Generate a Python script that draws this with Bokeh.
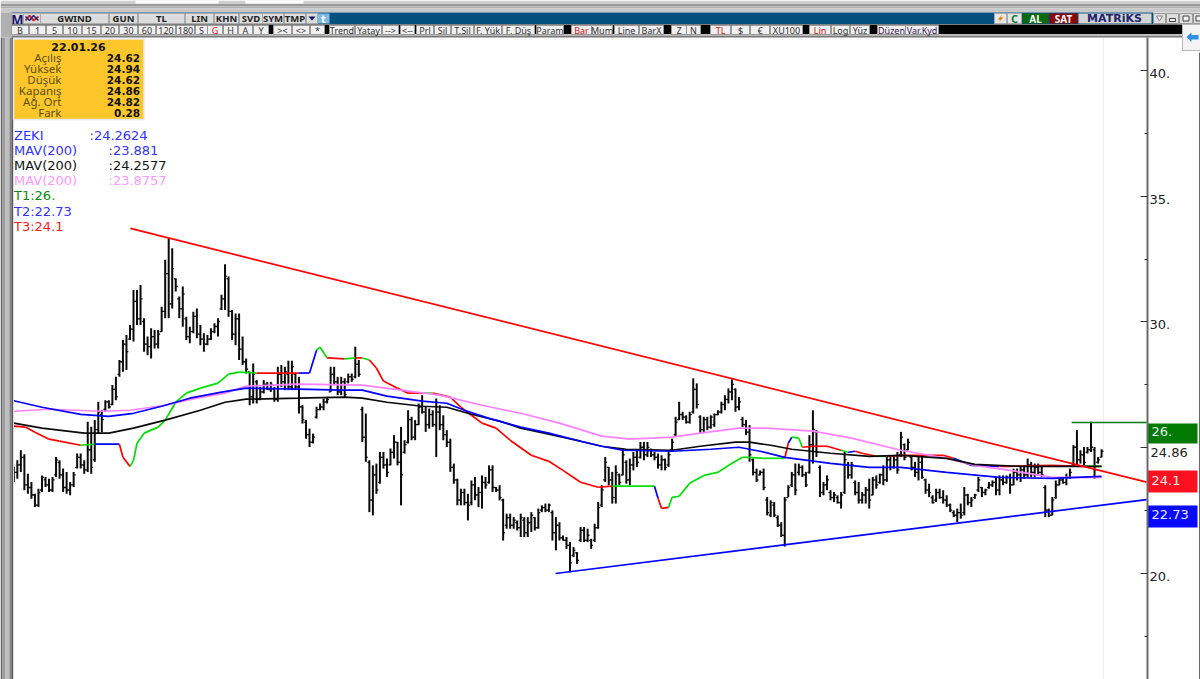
from bokeh.plotting import figure
from bokeh.embed import file_html
from bokeh.resources import INLINE
from bokeh.models import Range1d, LinearAxis, FixedTicker, ColumnDataSource
from bokeh.core.properties import value

# ---------- data ----------
HIGH = [
 24.32,24.58,24.98,24.82,24.05,23.72,23.25,23.45,23.98,23.92,23.85,23.92,24.71,24.58,24.25,24.12,23.72,24.12,24.85,24.85,24.58,26.11,25.91,26.18,26.91,26.57,26.97,26.97,27.57,27.9,28.57,29.36,29.56,29.96,31.35,31.35,31.55,30.23,29.5,29.83,29.76,29.76,30.69,32.55,33.4,33.01,31.82,31.09,31.49,30.29,29.89,30.49,30.62,29.96,29.63,29.56,29.83,30.03,30.23,31.16,32.38,31.89,30.56,30.42,30.42,29.5,28.63,28.1,28.43,27.77,27.5,27.77,27.7,27.7,27.5,28.3,28.37,28.3,28.54,28.54,28.03,27.9,
 26.77,26.18,25.84,25.64,26.71,26.84,27.04,27.1,28.3,28.3,27.9,27.9,27.84,28.03,28.03,29.1,28.57,26.71,26.44,24.58,24.38,24.45,24.91,24.91,24.65,25.05,25.58,25.31,25.91,25.38,26.57,26.31,26.18,26.84,27.17,26.71,26.64,26.57,27.04,26.77,26.37,25.78,25.44,24.45,23.85,23.45,23.45,23.25,23.78,23.92,23.52,23.98,23.92,24.38,24.38,23.52,23.59,23.05,22.46,22.46,22.32,22.19,22.46,22.32,22.32,22.52,22.32,22.66,22.79,22.86,22.86,22.59,22.32,22.12,21.59,21.53,21.33,21.13,20.93,21.93,21.93,21.86,21.46,22.06,22.92,
 23.59,24.71,24.32,24.12,24.38,24.05,25.05,24.58,24.65,24.91,24.98,25.31,25.31,25.31,25.05,24.91,24.85,24.78,24.65,24.98,25.44,26.31,26.91,26.51,26.37,26.51,27.84,27.64,26.37,26.31,26.31,26.37,26.44,26.57,26.91,27.17,27.44,27.8,27.44,27.1,26.31,26.18,25.98,24.65,24.25,24.18,24.25,23.12,22.99,22.92,22.39,22.12,23.12,23.59,24.12,24.45,24.45,24.38,24.12,25.58,26.57,25.78,24.38,23.72,23.98,23.39,23.32,23.19,23.32,24.91,24.52,24.52,23.78,23.72,23.32,23.52,23.85,23.92,23.98,24.05,24.38,24.78,24.78,24.78,24.91,
 25.71,25.25,25.44,24.71,24.52,24.71,24.78,23.85,23.65,23.19,23.45,23.45,23.39,23.19,22.86,22.59,22.66,22.86,23.52,23.25,23.12,23.25,23.92,23.52,23.45,23.72,23.78,23.92,23.98,23.98,23.98,24.05,24.25,24.25,24.32,24.38,24.65,24.52,24.45,24.45,24.38,23.59,22.66,23.12,23.78,23.92,23.92,24.05,24.25,25.18,25.78,24.98,25.11,25.11,26.11,25.11,24.71,24.94]
LOW = [
 23.72,23.85,24.12,23.39,23.25,23.05,22.72,22.72,23.32,23.52,23.32,23.32,23.92,23.85,23.32,23.25,23.19,23.52,24.25,24.25,24.05,24.12,24.05,24.52,25.64,25.71,26.51,26.64,26.77,26.97,27.9,28.1,28.17,29.36,29.3,29.96,29.96,28.9,28.76,28.63,29.03,29.03,29.69,30.23,30.23,30.62,31.29,30.23,29.89,29.36,29.23,29.63,29.43,29.16,28.9,29.16,29.36,29.63,29.5,30.56,30.56,30.29,29.36,29.16,28.57,28.37,28.03,26.77,26.84,26.84,26.97,27.24,27.37,27.3,26.91,26.91,27.5,27.37,27.37,27.37,27.37,26.44,
 26.04,25.44,25.11,25.25,26.24,26.57,26.57,26.84,27.3,27.57,27.17,27.17,27.1,27.64,27.7,27.84,27.9,25.31,24.52,22.52,22.39,23.25,23.65,24.25,23.92,24.38,24.65,24.38,22.79,24.85,25.25,25.38,25.38,25.98,26.44,25.71,25.84,25.91,24.71,25.78,25.38,25.11,24.12,23.65,22.79,22.79,22.79,22.19,22.79,22.99,22.72,22.66,23.45,23.65,23.32,23.32,22.99,21.39,21.86,21.86,21.86,21.79,21.53,21.53,21.53,21.73,21.79,21.86,22.52,22.52,22.52,21.39,21.0,21.39,21.39,21.06,20.13,20.73,20.46,21.33,21.33,21.33,21.06,21.33,21.86,
 22.72,23.72,23.59,22.86,22.86,23.59,23.98,23.65,23.59,24.18,24.32,24.65,24.58,24.71,24.71,24.58,24.25,24.18,24.18,24.32,24.91,25.51,26.18,26.18,26.04,26.04,26.44,26.64,25.64,25.71,25.78,25.84,25.91,26.37,26.44,26.57,26.84,26.97,26.51,26.57,25.91,25.58,24.52,23.98,23.72,23.98,23.39,22.39,22.32,22.32,21.93,21.53,21.15,23.12,23.52,23.19,23.98,23.92,23.52,24.05,24.45,24.71,23.12,23.19,23.39,22.99,22.92,22.86,22.66,23.25,23.85,23.85,23.19,22.86,22.86,22.86,22.66,23.19,23.45,23.65,23.59,23.72,24.18,24.25,24.05,
 24.71,24.58,24.98,24.18,23.92,23.78,23.85,23.25,23.12,22.86,22.92,23.05,22.86,22.72,22.52,22.32,22.12,22.26,22.39,22.79,22.72,23.05,23.32,23.12,23.19,23.45,23.52,23.19,23.19,23.59,23.65,23.25,23.59,23.78,23.72,23.85,23.92,23.92,23.92,23.98,23.92,22.32,22.32,22.39,23.05,23.59,23.65,23.59,23.85,24.32,24.38,24.45,24.38,24.85,24.91,23.85,24.45,24.62]
OPEN = [
 23.9,24.1,24.4,24.7,23.6,23.5,23.2,22.8,23.4,23.8,23.6,23.4,24.0,24.5,24.0,23.5,23.4,23.6,24.3,24.7,24.4,24.2,25.0,24.6,25.8,26.4,26.6,26.9,26.8,27.4,28.0,28.5,29.2,29.4,29.8,30.9,30.2,30.1,29.2,29.1,29.5,29.2,29.7,30.5,32.0,30.8,31.8,31.0,30.6,30.2,29.5,29.7,30.3,29.6,29.4,29.2,29.4,29.7,29.9,30.6,31.0,31.8,30.5,29.6,30.2,29.0,28.5,28.1,27.1,27.7,27.0,27.3,27.6,27.4,27.4,27.0,28.0,27.7,28.0,27.5,28.0,27.5,
 26.7,26.1,25.6,25.3,26.3,26.6,26.7,26.9,27.3,28.0,27.7,27.3,27.7,27.7,27.9,27.9,28.4,26.6,25.5,24.5,23.0,24.0,23.7,24.7,24.4,24.4,24.9,25.3,24.5,24.9,25.3,26.2,25.5,26.0,26.7,26.5,26.0,26.4,26.0,26.5,26.0,25.6,25.3,24.3,23.8,23.0,23.3,22.9,22.9,23.6,23.2,23.3,23.7,23.7,24.2,23.5,23.4,23.0,22.0,22.3,22.0,22.1,21.9,22.2,21.7,22.1,22.3,21.9,22.6,22.7,22.6,22.5,21.7,22.0,21.5,21.4,21.2,20.8,20.9,21.4,21.8,21.4,21.4,21.4,21.9,
 22.8,23.8,24.3,23.8,23.1,24.0,24.0,24.5,23.8,24.4,24.7,24.7,25.1,24.8,25.0,24.8,24.7,24.4,24.6,24.4,25.0,25.6,26.2,26.4,26.3,26.1,26.5,27.4,26.3,25.8,26.2,25.9,26.0,26.4,26.5,26.8,27.0,27.3,27.4,26.7,26.2,26.0,25.7,24.6,24.1,24.0,24.1,23.0,22.4,22.8,22.3,22.0,21.6,23.1,23.6,24.0,24.1,24.3,24.0,24.1,25.2,25.7,24.3,23.3,23.6,23.3,23.1,23.1,22.9,23.3,24.4,24.0,23.7,23.3,23.0,23.2,23.4,23.2,23.8,23.7,24.0,23.8,24.6,24.3,24.6,
 24.8,25.2,25.0,24.7,24.3,24.1,24.5,23.8,23.4,23.1,23.0,23.3,23.1,23.0,22.8,22.5,22.4,22.5,22.5,23.2,22.9,23.1,23.4,23.5,23.3,23.5,23.6,23.7,23.4,23.8,23.7,23.9,23.6,24.1,24.0,24.2,24.0,24.4,24.1,24.3,24.1,23.5,22.6,22.4,23.1,23.6,23.8,23.7,23.9,24.4,25.1,24.6,24.8,24.9,25.0,25.0,24.5,24.62]
CLOSE = [
 24.1,24.4,24.7,23.6,23.5,23.2,22.8,23.3,23.9,23.6,23.4,23.8,24.6,24.0,23.5,23.4,23.6,24.0,24.7,24.4,24.2,25.0,24.3,25.8,26.5,26.2,26.9,26.7,27.4,27.1,28.5,29.2,28.9,29.8,30.9,30.2,31.0,29.2,29.1,29.5,29.2,29.6,30.5,32.0,30.8,32.2,31.5,30.6,31.2,29.5,29.7,30.3,29.6,29.4,29.2,29.4,29.7,29.9,30.1,31.0,31.9,30.5,29.6,30.2,29.0,28.5,28.2,27.1,28.0,27.0,27.3,27.6,27.4,27.6,27.0,28.0,27.7,28.1,27.5,28.3,27.5,26.7,
 26.2,25.6,25.3,25.5,26.6,26.7,26.9,27.0,28.0,27.7,27.3,27.7,27.2,27.9,27.8,28.4,28.0,25.5,24.7,23.0,24.0,23.4,24.7,24.4,24.1,24.9,25.3,24.5,24.0,25.2,26.2,25.5,26.0,26.7,26.5,26.0,26.4,26.0,26.5,26.0,25.6,25.3,24.3,23.8,23.0,23.3,22.9,22.8,23.6,23.2,23.3,23.7,23.6,24.2,23.5,23.4,23.1,21.7,22.3,22.0,22.2,21.9,22.3,21.7,22.1,22.4,21.9,22.5,22.7,22.6,22.8,21.7,22.0,21.5,21.4,21.2,20.5,21.0,20.6,21.8,21.4,21.6,21.2,21.9,22.7,
 23.4,24.5,23.8,23.1,24.1,23.7,24.8,23.8,24.4,24.7,24.5,25.1,24.8,25.1,24.8,24.7,24.4,24.6,24.3,24.8,25.3,26.1,26.4,26.3,26.1,26.4,27.4,26.8,25.8,26.2,25.9,26.3,26.4,26.5,26.8,27.0,27.3,27.6,26.7,26.9,26.0,25.7,24.8,24.1,23.8,24.1,23.5,22.5,22.9,22.4,22.0,21.6,23.0,23.5,24.0,23.4,24.3,24.0,23.6,25.2,25.8,24.9,23.3,23.6,23.8,23.1,23.2,22.9,23.2,24.6,24.0,24.4,23.3,23.0,23.2,23.4,23.0,23.8,23.6,24.0,23.8,24.6,24.3,24.6,24.2,
 25.5,24.7,25.3,24.3,24.1,24.5,23.9,23.4,23.3,22.9,23.3,23.1,23.0,22.8,22.6,22.4,22.5,22.4,23.2,22.9,23.0,23.2,23.8,23.3,23.4,23.6,23.7,23.4,23.8,23.7,23.9,23.6,24.1,24.0,24.2,24.0,24.4,24.1,24.3,24.1,24.0,22.6,22.4,23.0,23.6,23.8,23.7,23.9,24.1,25.1,24.6,24.8,24.5,25.0,25.1,24.2,24.6,24.86]

ZEKI_X = [0,3.3,6,10,13,19,23,30,31,33,34,35,37,41,43,46,49,53,58,61,64,69,81,84,86,87,89,94,97,99,101,103,105,109,112,114,116,119,124,127,130,133,137,141,147,152,156,161,166,170,182,183,184,186,187,189,192,196,200,204,207,209,213,219,220,221,223,224,227,230,231,235,237,239,241,245,248,252,264,267,272,280,282,295,304,309]
ZEKI_Y = [25.94,25.90,25.70,25.42,25.34,25.18,25.22,25.22,24.70,24.34,24.58,25.26,25.66,25.90,26.18,26.89,27.25,27.45,27.65,28.01,28.09,28.05,28.05,28.05,28.96,29.08,28.65,28.61,28.65,28.65,28.57,28.25,27.73,27.45,27.25,27.25,27.25,27.25,27.09,26.69,26.37,26.06,25.86,25.38,24.78,24.54,24.18,23.71,23.51,23.55,23.55,23.07,22.67,22.71,23.11,23.15,23.67,23.98,24.10,24.46,24.70,24.70,24.66,24.66,25.26,25.50,25.46,25.10,25.14,25.14,25.14,24.98,24.90,24.94,24.86,24.74,24.74,24.78,24.78,24.66,24.38,24.34,24.34,24.38,24.34,24.34]
ZEKI_STATE = "rrrrrgbrrggggggggggggrbbggrgrgrrrrrrgrrrrrrrrrrrrgbrrggggggggggrbggrrrrgbrrgrrrbbrrrgbgb"
MAV_BLUE_X = [0,8,19,27,34,42,50,59,66,81,93,99,106,116,123,128,135,144,152,161,167,173,187,198,206,212,219,232,243,252,265,280,295,309]
MAV_BLUE_Y = [26.95,26.69,26.41,26.33,26.45,26.73,27.05,27.29,27.45,27.41,27.37,27.37,27.13,26.93,26.85,26.57,26.25,25.90,25.66,25.34,25.14,24.98,24.94,25.02,25.10,24.94,24.70,24.46,24.30,24.30,24.10,23.90,23.86,23.94]
MAV_BLACK_X = [0,8,20,27,34,43,53,60,66,81,94,99,106,116,123,130,138,144,152,161,167,174,187,195,205,209,215,221,232,243,252,265,273,286,309]
MAV_BLACK_Y = [26.06,25.86,25.66,25.66,25.86,26.18,26.57,26.89,27.01,27.05,27.09,27.05,26.89,26.73,26.69,26.41,26.14,25.86,25.62,25.34,25.14,25.02,24.98,25.14,25.30,25.30,25.18,25.02,24.86,24.74,24.78,24.66,24.42,24.34,24.34]
MAV_PINK_X = [0,10,25,33,43,52,60,66,81,99,110,121,133,144,155,167,175,187,195,206,214,227,238,252,265,273,283,295,309]
MAV_PINK_Y = [26.53,26.61,26.53,26.57,26.77,27.05,27.25,27.53,27.61,27.57,27.37,27.17,26.77,26.45,26.06,25.54,25.42,25.50,25.66,25.86,25.86,25.74,25.46,24.98,24.66,24.38,24.18,23.90,23.90]
RED_X, RED_Y = [33.1, 321.8], [33.72, 23.63]
BLUE_X, BLUE_Y = [153.9, 321.8], [20.0, 22.94]
GREEN_X, GREEN_Y = [300.5, 321.8], [26.0, 26.0]

AXIS_TICKS = [20, 25, 30, 35, 40]
AXIS_MINOR = [17.5, 22.5, 27.5, 32.5, 37.5]
AXIS_LABELS = {20: "20.", 25: "", 30: "30.", 35: "35.", 40: "40."}

PANEL_DATE = "22.01.26"
PANEL_ROWS = ["Açılış", "Yüksek", "Düşük", "Kapanış", "Ağ. Ort", "Fark"]
PANEL_VALS = ["24.62", "24.94", "24.62", "24.86", "24.82", "0.28"]
LEGEND = [("ZEKI", ":24.2624", "#3333ff", 89), ("MAV(200)", ":23.881", "#3333ff", 108),
          ("MAV(200)", ":24.2577", "#111111", 108), ("MAV(200)", ":23.8757", "#ff99ff", 108),
          ("T1:26.", "", "#0a8a0a", 0), ("T2:22.73", "", "#3333ff", 0), ("T3:24.1", "", "#ff1a1a", 0)]

ROW1 = [("M",11,23,"#14146e"),("",23,40,"#e0e0e0"),("GWIND",40,108,"#222"),("GUN",109,137,"#222"),("TL",138,184,"#222"),
        ("LIN",185,213,"#222"),("KHN",214,238,"#222"),("SVD",239,262,"#222"),("SYM",262,283,"#222"),("TMP",284,305,"#222")]
ROW2 = [("B",11,28),("1",29,45),("5",46,62),("10",63,81),("15",82,100),("20",101,118),("30",119,137),("60",138,155),("120",156,175),("180",176,194),
        ("S",195,207),("G",207,222),("H",223,237),("A",238,252),("Y",253,268),("><",273,291),("<>",292,309),("*",310,324),
        ("Trend",329,354),("Yatay",355,381),("-->",382,398),("<--",400,414),("Prl",416,433),("Sil",434,450),("T.Sil",451,473),("F. Yük",474,501),("F. Düş",502,534),("Param",536,563),
        ("Bar",571,591),("Mum",591,612),("Line",614,638),("BarX",639,663),("Z",671,686),("N",686,700),("TL",710,730),("$",731,749),("€",750,769),("XU100",770,802),
        ("Lin",809,830),("Log",831,849),("Yüz",850,869),("Düzen",877,905),("Var.Kyd",905,938)]
RED_BTN = {"G", "Bar", "TL", "Lin"}

# ---------- main figure: whole window ----------
YMIN, YMAX = 15.785, 42.783
p = figure(width=1200, height=679, output_backend="svg", toolbar_location=None,
           x_range=Range1d(-3.78, 337.1), y_range=Range1d(YMIN, YMAX),
           x_axis_type=None, y_axis_type=None, min_border=0, outline_line_color=None,
           background_fill_color="white", border_fill_color="white")
p.grid.visible = False
p.extra_x_ranges["px"] = Range1d(0, 1200)
p.extra_y_ranges["px"] = Range1d(679, 0)
PX = dict(x_range_name="px", y_range_name="px")
p.segment([1103], [37], [1103], [679], line_color="#efefef", line_width=1, **PX)

# bars (readings calibrated against the axis ticks; last bar is the printed quote)
CAL = -0.08
def cal(v):
    return [round(a + CAL, 3) for a in v[:-1]] + v[-1:]
idx = list(range(len(HIGH)))
src = ColumnDataSource(dict(x=idx, xl=[i - 0.55 for i in idx], xr=[i + 0.55 for i in idx],
                            h=cal(HIGH), l=cal(LOW), o=cal(OPEN), c=cal(CLOSE)))
p.segment("x", "l", "x", "h", source=src, line_color="#0a0a0a", line_width=2)
p.segment("xl", "o", "x", "o", source=src, line_color="#0a0a0a", line_width=1.3)
p.segment("x", "c", "xr", "c", source=src, line_color="#0a0a0a", line_width=1.3)

# coloured ZEKI indicator
cmap = {"r": "#ff0000", "g": "#00e000", "b": "#0000ff"}
zy = [a + CAL for a in ZEKI_Y]
n = min(len(ZEKI_X) - 1, len(ZEKI_STATE))
p.segment(ZEKI_X[:n], zy[:n], ZEKI_X[1:n + 1], zy[1:n + 1],
          line_color=[cmap[s] for s in ZEKI_STATE[:n]], line_width=1.7)
p.line(MAV_PINK_X, [a + CAL for a in MAV_PINK_Y], line_color="#ff80ff", line_width=1.7)
p.line(MAV_BLACK_X, [a + CAL for a in MAV_BLACK_Y], line_color="#0a0a0a", line_width=1.7)
p.line(MAV_BLUE_X, [a + CAL for a in MAV_BLUE_Y], line_color="#0000ff", line_width=1.7)
p.line(RED_X, RED_Y, line_color="#ff0000", line_width=1.7)
p.line(BLUE_X, BLUE_Y, line_color="#0000ff", line_width=1.7)
p.line(GREEN_X, GREEN_Y, line_color="#007a00", line_width=1.5)

# ---------- chrome ----------
def q(l, t, r, b, fill, line=None, w=1):
    p.quad(left=[l], right=[r], top=[t], bottom=[b], fill_color=fill, line_color=line, line_width=w, **PX)

def t(x, y, s, color="#333333", size="10px", align="center", style="normal", fam="Noto Sans"):
    p.text([x], [y], text=[s], text_color=color, text_font=value(fam), text_font_size=size, text_align=align,
           text_baseline="middle", text_font_style=style, **PX)

# left window strip
for l, r, c in [(0, 2, "#666666"), (2, 5, "#999999"), (5, 9, "#bcbcbc"), (9, 11, "#808080"), (11, 12.5, "#555555"), (12.5, 13.5, "#dddddd")]:
    q(l, 37, r, 679, c)
# top gray bands
for tp, b, c in [(0, 3.5, "#cfcfcf"), (3.5, 6, "#9a9a9a"), (6, 8, "#b0b0b0"), (8, 12, "#c8c8c8")]:
    q(0, tp, 1200, b, c)
q(135, 0, 218, 3, "#ffffff")
q(245, 0, 303, 3, "#ffffff")
q(0, 12, 11, 37, "#b0b0b0")
# blue band, black strip
q(11, 12, 1153, 23.5, "#03507f")
q(1153, 12, 1200, 24, "#d8d8d8")
q(11, 24, 1182, 34, "#000000")
q(11, 34, 1182, 35, "#ffffff")
q(11, 35, 1182, 37, "#777777")
q(1182, 24, 1200, 50, "#f3f3f3", "#b8b8b8")
# buttons, row 1
for s, a, b, c in ROW1:
    q(a, 13, b, 23, "#dcdcdc", "#aaaaaa")
    if s:
        t((a + b) / 2, 18, s, color=c, size="13px" if s == "M" else "9.5px", style="bold")
p.line([25, 29, 33, 38], [20, 15, 20, 16], line_color="#cc2222", line_width=2, **PX)
p.line([25, 29, 33, 38], [16, 20, 15, 20], line_color="#222288", line_width=1.5, **PX)
q(306, 13, 317, 23, "#dcdcdc", "#aaaaaa")
p.patch([308, 315, 311.5], [16, 16, 20], fill_color="#14146e", line_color=None, **PX)
q(317, 13, 329, 23, "#7fb9e6", None)
t(323, 18, "t", color="#ffffff", size="11px", style="bold")
# right part of row 1
q(994, 13, 1006, 23, "#e6e6e6", "#aaaaaa")
p.patch([1002, 997, 1000, 998, 1003, 1000], [14, 19, 19, 22, 17, 17], fill_color="#e08000", line_color=None, **PX)
q(1007, 13, 1021, 23, "#e6e6e6", "#aaaaaa")
t(1014, 18, "C", color="#0a7a3a", size="11px", style="bold")
q(1022, 13, 1048, 23, "#0a6a0a")
t(1035, 18, "AL", color="#ffffff", size="10px", style="bold")
q(1049, 13, 1077, 23, "#8a0808")
t(1063, 18, "SAT", color="#ffffff", size="10px", style="bold")
q(1078, 13, 1151, 23, "#d4d4d4")
t(1114, 18, "MATRiKS", color="#23236e", size="11px", style="bold", fam="DejaVu Sans")
for a, b in [(1153, 1165), (1166, 1178), (1179, 1192), (1193, 1200)]:
    q(a, 13, b, 23, "#dedede", "#999999")
p.patch([1156, 1162, 1159], [15.5, 15.5, 20.5], fill_color="#eeeeee", line_color="#888888", **PX)
q(1169, 18, 1175, 21, "#eeeeee", "#444444")
q(1182.5, 15.5, 1188.5, 20.5, "#eeeeee", "#444444")
q(1195.5, 15.5, 1200, 20.5, "#eeeeee", "#444444")
p.patch([1186, 1191, 1191, 1198, 1198, 1191, 1191], [36.5, 32, 34.5, 34.5, 39, 39, 41.5],
        fill_color="#2f8fe0", line_color=None, **PX)
# buttons, row 2
for s, a, b in ROW2:
    q(a, 25, b, 34, "#f0f0f0", "#999999")
    t((a + b) / 2, 29.5, s, color="#e01010" if s in RED_BTN else ("#3a1a5a" if s in ("Düzen", "Var.Kyd") else "#333333"), size="9px")

# info panel
q(13, 38.5, 143.5, 119, "#fdc62a", "#e8e8e8", 1.5)
t(78, 46, PANEL_DATE, color="#111111", size="11px", style="bold", fam="DejaVu Sans")
for i, (a, b) in enumerate(zip(PANEL_ROWS, PANEL_VALS)):
    y = 57.3 + i * 10.95
    t(61, y, a, color="#5e4e12", size="11.5px", align="right", fam="Noto Sans")
    t(139.5, y, b, color="#111111", size="10.5px", align="right", style="bold", fam="DejaVu Sans")

# legend text
for i, (a, b, c, xb) in enumerate(LEGEND):
    y = 135 + i * 15.1
    t(13.5, y, a, color=c, size="13px", align="left", fam="DejaVu Sans")
    if b:
        t(xb, y, b, color=c, size="13px", align="left", fam="DejaVu Sans")

# price tags on the right
q(1147, 423, 1197, 443, "#007a00")
q(1147, 470, 1197, 492, "#ff1020")
q(1147, 505, 1197, 527, "#0808ff")
t(1151, 431, "26.", color="#e8f0e8", size="13px", align="left", fam="DejaVu Sans")
t(1150, 452, "24.86", color="#222222", size="13px", align="left", fam="DejaVu Sans")
t(1151, 480, "24.1", color="#ffe8e8", size="13px", align="left", fam="DejaVu Sans")
t(1151, 514, "22.73", color="#e8e8ff", size="13px", align="left", fam="DejaVu Sans")
q(1198.5, 52, 1200, 679, "#666666")
p.styles = {"position": "absolute", "left": "0px", "top": "0px"}

# ---------- transparent strip with the price axis, laid over the main figure ----------
def axis_strip(top, lines, labels):
    f = figure(width=70, height=679, output_backend="svg", toolbar_location=None,
               x_range=Range1d(0, 1), y_range=Range1d(YMIN, YMAX), x_axis_type=None, y_axis_type=None,
               min_border=0, min_border_left=15, min_border_right=53, outline_line_color=None,
               background_fill_color=None, border_fill_color=None)
    f.grid.visible = False
    a = LinearAxis(ticker=FixedTicker(ticks=AXIS_TICKS, minor_ticks=AXIS_MINOR), major_label_overrides=AXIS_LABELS,
                   major_tick_in=7, major_tick_out=0, minor_tick_in=3, minor_tick_out=0,
                   axis_line_color="#6a6a6a" if lines else None, axis_line_width=2,
                   major_tick_line_color="#333333" if lines else None, minor_tick_line_color="#333333" if lines else None,
                   major_label_text_font="DejaVu Sans", major_label_text_font_size="13px",
                   major_label_text_color="#222222" if labels else None,
                   major_label_standoff=2, bounds=(YMIN, 41.3))
    f.add_layout(a, "right")
    f.styles = {"position": "absolute", "left": "1130px", "top": f"{top}px"}
    return f

a1 = axis_strip(0, True, False)
a2 = axis_strip(3, False, True)
open("out.html", "w").write(file_html([p, a1, a2], INLINE))
